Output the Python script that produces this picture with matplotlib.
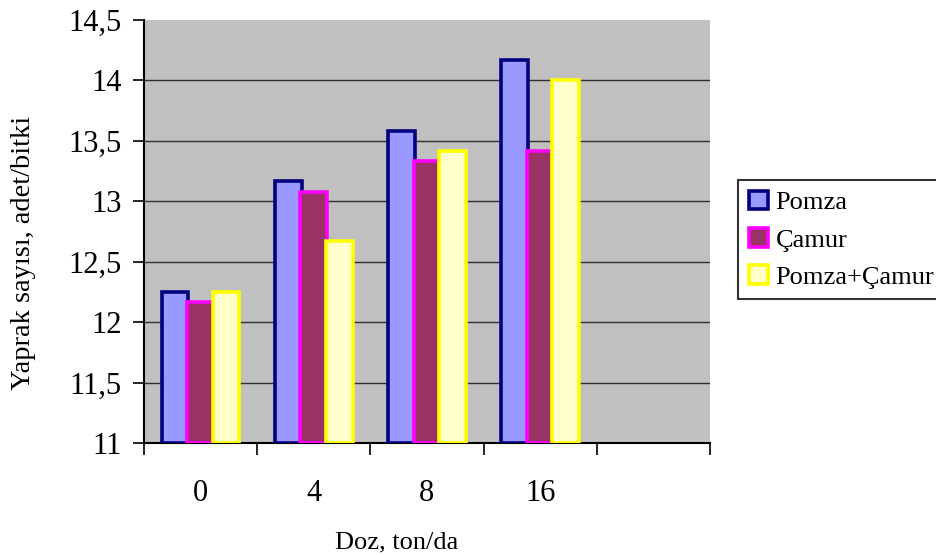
import matplotlib
matplotlib.use("Agg")
import matplotlib.pyplot as plt
import numpy as np

categories = ["0", "4", "8", "16"]
series_names = ["Pomza", "Çamur", "Pomza+Çamur"]
pomza = [12.25, 13.17, 13.58, 14.17]
camur = [12.17, 13.08, 13.33, 13.42]
pomza_camur = [12.25, 12.67, 13.42, 14.0]
y_ticks = [11, 11.5, 12, 12.5, 13, 13.5, 14, 14.5]
y_tick_labels = ["11", "11,5", "12", "12,5", "13", "13,5", "14", "14,5"]

faces = ["#9999FF", "#993366", "#FFFFCC"]
edges = ["#000080", "#FF00FF", "#FFFF00"]

plt.rcParams['font.family'] = ['Liberation Serif', 'DejaVu Serif']

fig = plt.figure(figsize=(9.36, 5.55), dpi=100)
ax = fig.add_axes([144/936, (555-443)/555, (710-144)/936, (443-20)/555])
ax.set_facecolor("#C0C0C0")

x = np.arange(len(categories)) + 0.5
bw = 0.235
step = 0.225
for i, (vals, name) in enumerate(zip([pomza, camur, pomza_camur], series_names)):
    pos = x + (i - 1) * step
    ax.bar(pos, np.array(vals) - 11, bottom=11, width=bw, color=faces[i],
           edgecolor=edges[i], linewidth=2.6, label=name, zorder=3 + i)

ax.set_ylim(11, 14.5)
ax.set_xlim(0, 5)
ax.set_yticks(y_ticks)
ax.set_yticklabels(y_tick_labels, fontsize=22)
ax.yaxis.grid(True, color="#303030", linewidth=1.0, zorder=1)
ax.set_axisbelow(True)
gl = ax.get_ygridlines()
gl[-1].set_visible(False)

ax.set_xticks(np.arange(0, 6))
ax.set_xticklabels([])
ax.set_xticks(x, minor=True)
ax.set_xticklabels(categories, minor=True, fontsize=22)
ax.tick_params(axis='x', which='minor', length=0, pad=26)
ax.tick_params(axis='x', which='major', direction='out', length=8.5, width=1.2)
ax.tick_params(axis='y', direction='out', length=8, width=1.2, pad=8)

for s in ["top", "right"]:
    ax.spines[s].set_visible(False)
for s in ["left", "bottom"]:
    ax.spines[s].set_linewidth(1.5)
    ax.spines[s].set_color("black")

ax.set_ylabel("Yaprak sayısı, adet/bitki", fontsize=20.5)
ax.yaxis.set_label_coords(-0.19, 0.45)
ax.set_xlabel("Doz, ton/da", fontsize=19)
ax.xaxis.set_label_coords(0.447, -0.21)

leg = fig.legend(loc="upper left", bbox_to_anchor=(738/936, 1 - 180/555),
                 fontsize=19, frameon=True, fancybox=False, shadow=False,
                 handlelength=0.72, handleheight=0.72, handletextpad=0.3,
                 borderpad=0.4, labelspacing=0.52, borderaxespad=0)
leg.get_frame().set_edgecolor("black")
leg.get_frame().set_linewidth(1.5)

fig.savefig("out.png", dpi=100)
